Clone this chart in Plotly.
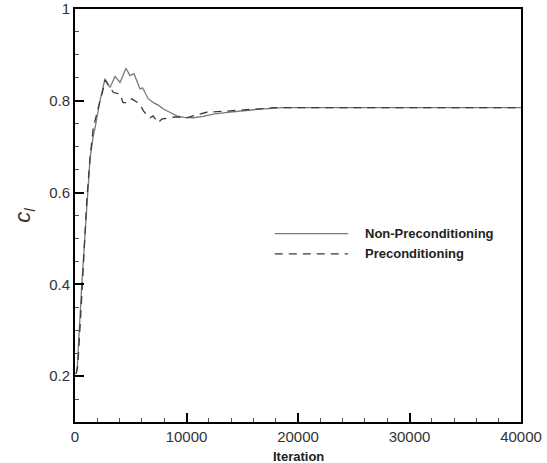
import plotly.graph_objects as go

# Non-Preconditioning (solid)
iter_np = [100, 210, 600, 990, 1350, 1650, 1800, 2240, 2690, 3140, 3590, 4040, 4575, 4930,
           5290, 5830, 6070, 6580, 7030, 7500, 7930, 8500, 9120, 9800, 10610, 11500,
           12400, 13500, 14800, 16600, 18700, 20000, 25000, 30000, 35000, 40000]
cl_np = [0.205, 0.221, 0.397, 0.544, 0.675, 0.725, 0.741, 0.800, 0.848, 0.829, 0.853, 0.840,
         0.871, 0.855, 0.859, 0.826, 0.828, 0.804, 0.796, 0.790, 0.782, 0.775, 0.767, 0.764,
         0.763, 0.766, 0.771, 0.774, 0.778, 0.782, 0.785, 0.785, 0.785, 0.785, 0.785, 0.785]

# Preconditioning (dashed)
iter_p = [100, 250, 600, 1050, 1345, 1640, 2240, 2500, 2690, 3140, 3440, 4040, 4300, 4750,
          5080, 5830, 6130, 6500, 6730, 7000, 7450, 7780, 8340, 9000, 10000, 10800, 11800,
          13300, 14950, 16500, 18000, 20000, 25000, 30000, 35000, 40000]
cl_p = [0.205, 0.222, 0.370, 0.580, 0.675, 0.741, 0.800, 0.822, 0.845, 0.829, 0.818, 0.815,
        0.796, 0.796, 0.804, 0.793, 0.778, 0.768, 0.763, 0.767, 0.752, 0.760, 0.763, 0.765,
        0.763, 0.768, 0.775, 0.777, 0.780, 0.782, 0.785, 0.785, 0.785, 0.785, 0.785, 0.785]

series_names = ["Non-Preconditioning", "Preconditioning"]
x_ticks = [0, 10000, 20000, 30000, 40000]
y_ticks = [0.2, 0.4, 0.6, 0.8, 1]

fig = go.Figure()
fig.add_trace(go.Scatter(x=iter_np, y=cl_np, mode="lines", name=series_names[0],
                         line=dict(color="#7a7a7a", width=1.3), showlegend=False))
fig.add_trace(go.Scatter(x=iter_p, y=cl_p, mode="lines", name=series_names[1],
                         line=dict(color="#3a3a3a", width=1.3, dash="8px,6px"), showlegend=False))

tickfont = dict(family="Liberation Sans, Arial, sans-serif", size=15, color="#333333")
fig.update_xaxes(range=[0, 40000], tickvals=x_ticks, ticktext=[str(v) for v in x_ticks],
                 ticks="inside", ticklen=9, tickwidth=2, tickcolor="black",
                 minor=dict(dtick=2000, ticks="inside", ticklen=4, tickwidth=1, tickcolor="#555"),
                 showline=True, linewidth=2, linecolor="black", mirror=True,
                 showgrid=False, zeroline=False, tickfont=tickfont, automargin=False)
fig.update_yaxes(range=[0.1, 1], tickvals=y_ticks, ticktext=["0.2", "0.4", "0.6", "0.8", "1"],
                 ticks="inside", ticklen=9, tickwidth=2, tickcolor="black",
                 minor=dict(dtick=0.05, tick0=0, ticks="inside", ticklen=4, tickwidth=1, tickcolor="#555"),
                 showline=True, linewidth=2, linecolor="black", mirror=True,
                 showgrid=False, zeroline=False, tickfont=tickfont, automargin=False,
                 title=dict(text="<i>c<sub>l</sub></i>", font=dict(family="Liberation Sans, Arial, sans-serif", size=22, color="#333"), standoff=12))

# x axis title
fig.add_annotation(xref="paper", yref="paper", x=0.5, y=0, yshift=-34, xanchor="center", yanchor="middle",
                   text="<b>Iteration</b>", showarrow=False,
                   font=dict(family="Liberation Sans, Arial, sans-serif", size=13, color="#222"))

# manual legend
leg_y = [0.456, 0.407]
dashes = ["solid", "8px,6px"]
colors = ["#7a7a7a", "#3a3a3a"]
for i in range(2):
    fig.add_shape(type="line", xref="paper", yref="paper", x0=0.448, x1=0.612, y0=leg_y[i], y1=leg_y[i],
                  line=dict(color=colors[i], width=1.3, dash=dashes[i]))
    fig.add_annotation(xref="paper", yref="paper", x=0.645, y=leg_y[i], xanchor="left", yanchor="middle",
                       text="<b>" + series_names[i] + "</b>", showarrow=False,
                       font=dict(family="Liberation Sans, Arial, sans-serif", size=13, color="#222"))

fig.update_layout(width=547, height=463, margin=dict(l=75, r=26, t=9, b=41),
                  paper_bgcolor="white", plot_bgcolor="white")
fig.write_html("out.html")
